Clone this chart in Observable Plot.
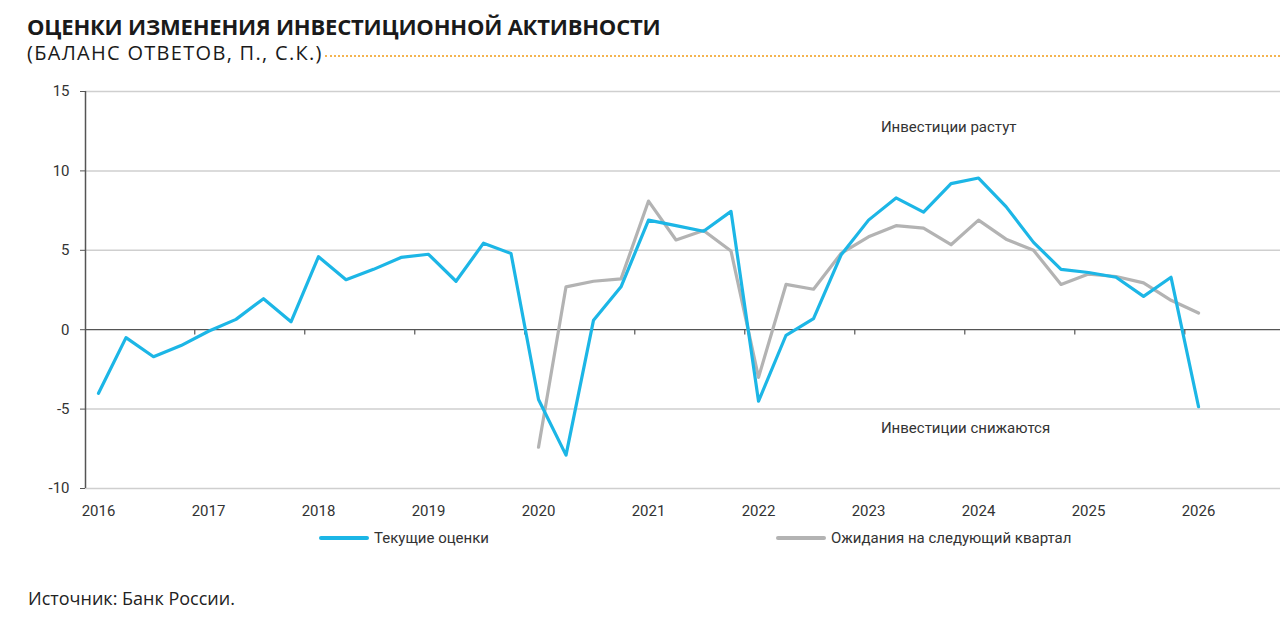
<!DOCTYPE html>
<html>
<head>
<meta charset="utf-8">
<script src="https://cdn.jsdelivr.net/npm/d3@7"></script>
<script src="https://cdn.jsdelivr.net/npm/@observablehq/plot@0.6"></script>
<style>
  html, body { margin: 0; padding: 0; background: #fff; }
  body { width: 1280px; height: 631px; position: relative; overflow: hidden; font-family: "Open Sans", sans-serif; color: #222; }
  #title { position: absolute; left: 27px; top: 11px; font-size: 22px; font-weight: 700; letter-spacing: -0.2px; color: #1a1a1a; white-space: nowrap; }
  #subtitle { position: absolute; left: 27px; top: 39px; font-size: 20px; font-weight: 400; letter-spacing: 1.3px; color: #1a1a1a; white-space: nowrap; display: flex; align-items: baseline; width: 1253px; }
  #subtitle .dots { flex: 1; height: 0; border-bottom: 2px dotted #f4b450; margin-left: 2px; transform: translateY(-3px); }
  #chart { position: absolute; left: 0; top: 70px; }
  .leg { position: absolute; top: 529px; font-family: Roboto, sans-serif; font-size: 15px; color: #333; display: flex; align-items: center; white-space: nowrap; }
  .leg .sw { display: inline-block; width: 50px; height: 4px; border-radius: 2px; margin-right: 5px; }
  #source { position: absolute; left: 28px; top: 586px; font-size: 18px; color: #222; white-space: nowrap; }
</style>
</head>
<body>
<div id="title">ОЦЕНКИ ИЗМЕНЕНИЯ ИНВЕСТИЦИОННОЙ АКТИВНОСТИ</div>
<div id="subtitle"><span>(БАЛАНС ОТВЕТОВ, П., С.К.)</span><span class="dots"></span></div>
<div id="chart"></div>
<div class="leg" style="left:319px"><span class="sw" style="background:#1cb6e6"></span>Текущие оценки</div>
<div class="leg" style="left:776px"><span class="sw" style="background:#b3b3b3"></span>Ожидания на следующий квартал</div>
<div id="source">Источник: Банк России.</div>
<script>
// Quarterly data, 2016 Q1 .. 2026 Q1
const years = [2016, 2017, 2018, 2019, 2020, 2021, 2022, 2023, 2024, 2025, 2026];
const current = [
  -4.0, -0.5, -1.7, -1.0,
  -0.1, 0.65, 1.95, 0.5,
  4.6, 3.15, 3.8, 4.55,
  4.75, 3.05, 5.45, 4.8,
  -4.4, -7.9, 0.6, 2.7,
  6.9, 6.55, 6.2, 7.45,
  -4.5, -0.35, 0.7, 4.7,
  6.9, 8.3, 7.4, 9.2,
  9.55, 7.75, 5.5, 3.8,
  3.6, 3.3, 2.1, 3.3,
  -4.85
];
// Expectations start in 2020 Q1
const expectedStart = 16;
const expected = [
  -7.4, 2.7, 3.05, 3.2,
  8.1, 5.65, 6.25, 4.95,
  -3.0, 2.85, 2.55, 4.8,
  5.85, 6.55, 6.4, 5.35,
  6.9, 5.7, 5.0, 2.85,
  3.5, 3.35, 2.95, 1.85,
  1.05
];
const yTicks = [-10, -5, 0, 5, 10, 15];
const gridLines = [-10, -5, 5, 10, 15];
const labels = [
  {text: "Инвестиции растут", q: 28.45, v: 12.75},
  {text: "Инвестиции снижаются", q: 28.45, v: -6.18}
];

const curData = current.map((v, i) => ({q: i, v}));
const expData = expected.map((v, i) => ({q: i + expectedStart, v}));
const yearIdx = years.map((y, k) => k * 4);
const boundaries = years.slice(1).map((y, k) => (k + 1) * 4 - 0.5);
const xDomain = [-0.4727, 42.98];

const chart = Plot.plot({
  width: 1280,
  height: 455,
  marginLeft: 85,
  marginRight: 0,
  marginTop: 21,
  marginBottom: 37,
  style: {fontFamily: "Roboto, sans-serif", fontSize: "15px", color: "#333", background: "transparent"},
  x: {domain: xDomain, axis: null, label: null},
  y: {domain: [-10, 15], axis: null, label: null},
  marks: [
    Plot.ruleY(gridLines, {stroke: "#cfcfcf", strokeWidth: 1.5}),
    Plot.ruleY([0], {stroke: "#555", strokeWidth: 1.2}),
    Plot.ruleX(boundaries, {y1: 0, y2: -0.33, stroke: "#555", strokeWidth: 1.2}),
    Plot.ruleX([xDomain[0]], {y1: -10, y2: 15, stroke: "#555", strokeWidth: 1.5}),
    Plot.axisY({ticks: yTicks, tickFormat: (d) => String(d), label: null, tickSize: 5, tickPadding: 11, stroke: "#555", fontSize: 15, fill: "#333"}),
    Plot.axisX({ticks: yearIdx, tickFormat: (d) => String(years[Math.round(d / 4)]), label: null, tickSize: 0, tickPadding: 17, fontSize: 15, fill: "#333"}),
    Plot.line(expData, {x: "q", y: "v", stroke: "#b3b3b3", strokeWidth: 3.2}),
    Plot.line(curData, {x: "q", y: "v", stroke: "#1cb6e6", strokeWidth: 3.2}),
    Plot.text(labels, {x: "q", y: "v", text: "text", textAnchor: "start", fontSize: 15, fill: "#333"})
  ]
});
document.getElementById("chart").appendChild(chart);
</script>
</body>
</html>
